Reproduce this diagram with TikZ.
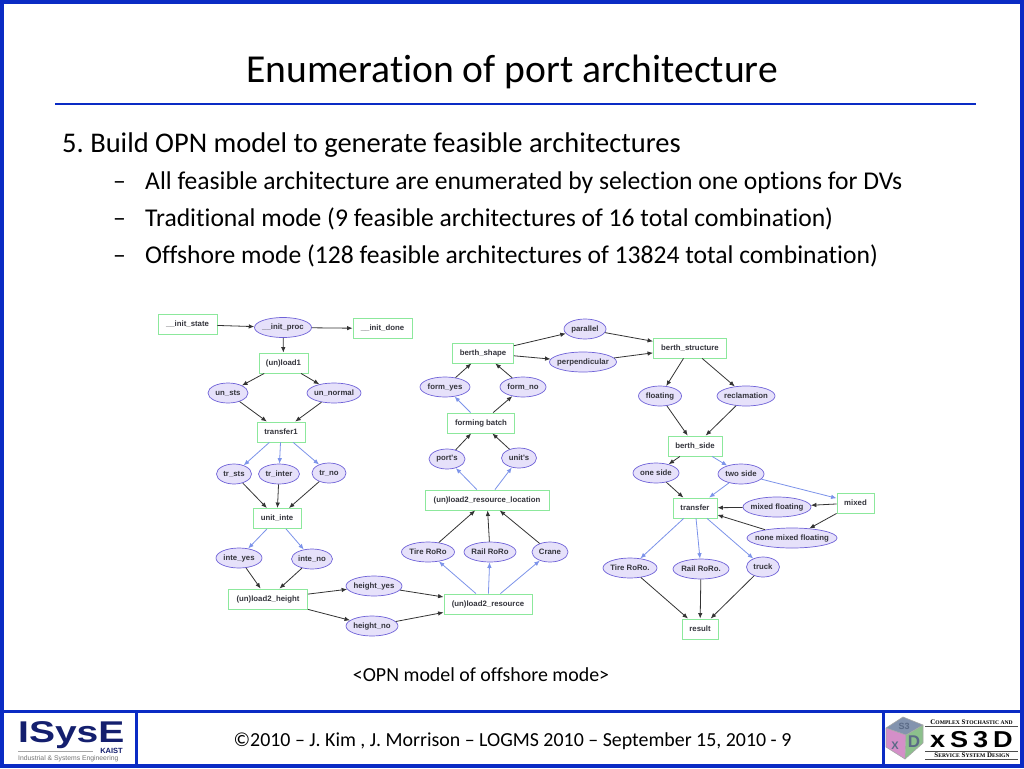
\documentclass[tikz,border=0pt]{standalone}
\usepackage{fontspec}
\setmainfont{Carlito}[Ligatures=NoCommon]
\newfontfamily\labelfont{Liberation Sans}
\newfontfamily\logoserif{Liberation Serif}
\usetikzlibrary{arrows.meta,shapes.geometric}
\definecolor{slideblue}{HTML}{0A2BC4}
\definecolor{logonavy}{HTML}{141F6E}
\definecolor{placeline}{HTML}{6F62D8}
\definecolor{placefill}{HTML}{E6E1FA}
\definecolor{boxline}{HTML}{8CE89C}
\definecolor{softblue}{HTML}{7C93EA}
\definecolor{labeltext}{HTML}{34343C}
\definecolor{cubetopc}{HTML}{8393AE}
\definecolor{cubeleftc}{HTML}{D48FC8}
\definecolor{cuberightc}{HTML}{8CC08C}
\definecolor{cubeletter}{HTML}{5A6A86}

\begin{document}
\frenchspacing
\begin{tikzpicture}[
        x=1pt, y=-1pt,
        opnbox/.style={rectangle, draw=boxline, fill=white, line width=0.9pt, inner sep=0pt, minimum height=20pt, font=\labelfont\bfseries\fontsize{7.8}{8}\selectfont, text=labeltext},
        opnoval/.style={ellipse, draw=placeline, fill=placefill, line width=0.7pt, inner ysep=0pt, inner xsep=-10pt, minimum height=20pt, font=\labelfont\bfseries\fontsize{7.8}{8}\selectfont, text=labeltext},
        flow/.style={-{Latex[length=5.5pt,width=4.5pt]}, black!80, line width=0.8pt},
        choice/.style={-{Latex[length=5.5pt,width=4.5pt]}, softblue, line width=0.8pt},
        slidetext/.style={anchor=base west, inner sep=0pt, text=black},
        rule/.style={slideblue, line width=3pt}
      ]
      \useasboundingbox (0,0) rectangle (1024,768);
      \fill[white] (0,0) rectangle (1024,768);

      % frame and footer
      \draw[slideblue, line width=4pt] (2,2) rectangle (1022,766);
      \draw[rule] (0,711.5) -- (1024,711.5);
      \draw[rule] (136,712) -- (136,768);
      \draw[rule] (883.5,712) -- (883.5,768);
      \draw[slideblue, line width=2pt] (55,104) -- (976,104);

      % slide text
      \node[anchor=base, inner sep=0pt] (title) at (512,82) {\fontsize{39.6}{42}\selectfont Enumeration of port architecture};
      \node[slidetext] (head) at (62,152) {\fontsize{28.5}{30}\selectfont 5. Build OPN model to generate feasible architectures};
      \node[slidetext] (dash1) at (113,189) {\fontsize{25.6}{28}\selectfont –};
      \node[slidetext] (item1) at (145,189) {\fontsize{25.6}{28}\selectfont All feasible architecture are enumerated by selection one options for DVs};
      \node[slidetext] (dash2) at (113,226) {\fontsize{25.6}{28}\selectfont –};
      \node[slidetext] (item2) at (145,226) {\fontsize{25.6}{28}\selectfont Traditional mode (9 feasible architectures of 16 total combination)};
      \node[slidetext] (dash3) at (113,263) {\fontsize{25.6}{28}\selectfont –};
      \node[slidetext] (item3) at (145,263) {\fontsize{25.6}{28}\selectfont Offshore mode (128 feasible architectures of 13824 total combination)};
      \node[anchor=base, inner sep=0pt] (caption) at (481,681.5) {\fontsize{19.9}{22}\selectfont <OPN model of offshore mode>};
      \node[anchor=base, inner sep=0pt] (footer) at (512.5,746) {\fontsize{19.9}{22}\selectfont ©2010 – J. Kim , J. Morrison – LOGMS 2010 – September 15, 2010 - 9};

      % left logo
      \node[anchor=base west, inner sep=0pt, text=logonavy] (isyse) at (18,742) {\labelfont\bfseries\fontsize{30}{31}\selectfont\scalebox{1.3}[1]{ISysE}};
      \draw[gray!70, line width=0.8pt] (18,751) -- (93,751);
      \node[anchor=base east, inner sep=0pt, text=logonavy] (kaist) at (123,753.5) {\labelfont\bfseries\fontsize{7.5}{8}\selectfont KAIST};
      \node[anchor=base west, inner sep=0pt, text=gray!90!black] (isysename) at (18,760.5) {\labelfont\fontsize{6.8}{7}\selectfont Industrial \& Systems Engineering};

      % right logo
      \fill[cubetopc] (903,717) -- (923,725) -- (906,735) -- (886,728) -- cycle;
      \fill[cubeleftc] (886,728) -- (906,735) -- (905,759) -- (886,747) -- cycle;
      \fill[cuberightc] (906,735) -- (923,725) -- (923,743) -- (905,759) -- cycle;
      \draw[gray!70, line width=0.6pt] (903,717) -- (923,725) -- (923,743) -- (905,759) -- (886,747) -- (886,728) -- cycle;
      \draw[gray!70, line width=0.6pt] (886,728) -- (906,735) -- (923,725) (906,735) -- (905,759);
      \node[text=cubeletter, inner sep=0pt] (cubetop) at (904,726) {\labelfont\bfseries\fontsize{9}{10}\selectfont S3};
      \node[text=cubeletter, inner sep=0pt] (cubeleft) at (895,746) {\labelfont\bfseries\fontsize{11}{12}\selectfont X};
      \node[text=cubeletter, inner sep=0pt] (cuberight) at (914,742) {\labelfont\bfseries\fontsize{17}{18}\selectfont D};
      \node[inner sep=0pt] (xsname) at (971.5,722.5) {\logoserif\bfseries\fontsize{7}{7}\selectfont C{\fontsize{5.6}{6}\selectfont OMPLEX} S{\fontsize{5.6}{6}\selectfont TOCHASTIC AND}};
      \draw[gray!60!black, line width=0.6pt] (925,726) -- (1018,726);
      \node[inner sep=0pt] (xsd) at (971.5,740) {\labelfont\bfseries\fontsize{23}{24}\selectfont\addfontfeature{LetterSpace=18}\scalebox{1.18}[1]{xS3D}};
      \draw[gray!60!black, line width=0.6pt] (925,751.5) -- (1018,751.5);
      \node[inner sep=0pt] (xsdesign) at (972,755.5) {\logoserif\bfseries\fontsize{7}{7}\selectfont S{\fontsize{5.6}{6}\selectfont ERVICE} S{\fontsize{5.6}{6}\selectfont YSTEM} D{\fontsize{5.6}{6}\selectfont ESIGN}};
      \draw[gray!60!black, line width=0.6pt] (925,759.5) -- (1018,759.5);

      % left graph
      \node[opnbox, minimum width=59pt] (initstate) at (187.5,324.5) {\_\_init\_state};
      \node[opnoval, minimum width=57pt] (initproc) at (283,327.5) {\_\_init\_proc};
      \node[opnbox, minimum width=59pt] (initdone) at (382.5,328.5) {\_\_init\_done};
      \node[opnbox, minimum width=49pt] (load1) at (283.5,363) {(un)load1};
      \node[opnoval, minimum width=40pt] (unsts) at (228,393) {un\_sts};
      \node[opnoval, minimum width=54pt] (unnormal) at (334,393) {un\_normal};
      \node[opnbox, minimum width=48pt] (transfer1) at (281,432) {transfer1};
      \node[opnoval, minimum width=35pt] (trsts) at (234,474) {tr\_sts};
      \node[opnoval, minimum width=41pt] (trinter) at (279,474) {tr\_inter};
      \node[opnoval, minimum width=34pt] (trno) at (329,473) {tr\_no};
      \node[opnbox, minimum width=48pt] (unitinte) at (277,518.5) {unit\_inte};
      \node[opnoval, minimum width=46pt] (inteyes) at (239,558) {inte\_yes};
      \node[opnoval, minimum width=41pt] (inteno) at (312,559) {inte\_no};
      \node[opnbox, minimum width=79pt] (loadheight) at (268,599) {(un)load2\_height};
      \node[opnoval, minimum width=56pt] (heightyes) at (374,586) {height\_yes};
      \node[opnoval, minimum width=52pt] (heightno) at (372,626) {height\_no};

      % middle graph
      \node[opnbox, minimum width=88pt] (loadres) at (488,604) {(un)load2\_resource};
      \node[opnoval, minimum width=53pt] (tireroro) at (428,552) {Tire RoRo};
      \node[opnoval, minimum width=52pt] (railroro) at (490,552) {Rail RoRo};
      \node[opnoval, minimum width=36pt] (crane) at (550,552) {Crane};
      \node[opnbox, minimum width=124pt] (loadresloc) at (487,500) {(un)load2\_resource\_location};
      \node[opnoval, minimum width=36pt] (ports) at (447,459) {port's};
      \node[opnoval, minimum width=35pt] (units) at (519,458) {unit's};
      \node[opnbox, minimum width=67pt] (forming) at (481,423) {forming batch};
      \node[opnoval, minimum width=50pt] (formyes) at (445,387) {form\_yes};
      \node[opnoval, minimum width=46pt] (formno) at (523,387) {form\_no};
      \node[opnbox, minimum width=61pt] (berthshape) at (483,353) {berth\_shape};
      \node[opnoval, minimum width=42pt] (parallel) at (585,329) {parallel};
      \node[opnoval, minimum width=67pt] (perpendicular) at (583,362) {perpendicular};

      % right graph
      \node[opnbox, minimum width=73pt] (berthstruct) at (690,348) {berth\_structure};
      \node[opnoval, minimum width=43pt] (floating) at (660,396) {floating};
      \node[opnoval, minimum width=58pt] (reclamation) at (746,396) {reclamation};
      \node[opnbox, minimum width=54pt] (berthside) at (695,446) {berth\_side};
      \node[opnoval, minimum width=46pt] (oneside) at (656,473) {one side};
      \node[opnoval, minimum width=46pt] (twoside) at (741,474) {two side};
      \node[opnbox, minimum width=44pt] (transfer) at (695,508) {transfer};
      \node[opnoval, minimum width=68pt] (mixedfloat) at (777,507) {mixed floating};
      \node[opnbox, minimum width=37pt] (mixed) at (855.5,503) {mixed};
      \node[opnoval, minimum width=90pt] (nonemixed) at (792,538) {none mixed floating};
      \node[opnoval, minimum width=54pt] (tireroroB) at (630,568) {Tire RoRo.};
      \node[opnoval, minimum width=56pt] (railroroB) at (701,569) {Rail RoRo.};
      \node[opnoval, minimum width=33pt] (truck) at (763,567) {truck};
      \node[opnbox, minimum width=36pt] (result) at (700,629) {result};

      % connectors, left graph
      \draw[flow] (initstate) -- (initproc);
      \draw[flow] (initproc) -- (initdone);
      \draw[flow] (initproc) -- (load1);
      \draw[flow] (load1) -- (unsts);
      \draw[flow] (load1) -- (unnormal);
      \draw[flow] (unsts) -- (transfer1);
      \draw[flow] (unnormal) -- (transfer1);
      \draw[choice] (transfer1) -- (trsts);
      \draw[choice] (transfer1) -- (trinter);
      \draw[choice] (transfer1) -- (trno);
      \draw[flow] (trsts) -- (unitinte);
      \draw[flow] (trinter) -- (unitinte);
      \draw[flow] (trno) -- (unitinte);
      \draw[choice] (unitinte) -- (inteyes);
      \draw[choice] (unitinte) -- (inteno);
      \draw[flow] (inteyes) -- (loadheight);
      \draw[flow] (inteno) -- (loadheight);
      \draw[flow] (loadheight) -- (heightyes);
      \draw[flow] (loadheight) -- (heightno);
      \draw[flow] (heightyes) -- (loadres);
      \draw[flow] (heightno) -- (loadres);

      % connectors, middle graph
      \draw[choice] (loadres) -- (tireroro);
      \draw[choice] (loadres) -- (railroro);
      \draw[choice] (loadres) -- (crane);
      \draw[flow] (tireroro) -- (loadresloc);
      \draw[flow] (railroro) -- (loadresloc);
      \draw[flow] (crane) -- (loadresloc);
      \draw[choice] (loadresloc) -- (ports);
      \draw[choice] (loadresloc) -- (units);
      \draw[flow] (ports) -- (forming);
      \draw[flow] (units) -- (forming);
      \draw[choice] (forming) -- (formyes);
      \draw[flow] (forming) -- (formno);
      \draw[flow] (formyes) -- (berthshape);
      \draw[flow] (formno) -- (berthshape);
      \draw[flow] (berthshape) -- (parallel);
      \draw[flow] (berthshape) -- (perpendicular);

      % connectors, right graph
      \draw[flow] (parallel) -- (berthstruct);
      \draw[flow] (perpendicular) -- (berthstruct);
      \draw[flow] (berthstruct) -- (floating);
      \draw[flow] (berthstruct) -- (reclamation);
      \draw[flow] (floating) -- (berthside);
      \draw[flow] (reclamation) -- (berthside);
      \draw[flow] (berthside) -- (oneside);
      \draw[choice] (berthside) -- (twoside);
      \draw[flow] (oneside) -- (transfer);
      \draw[choice] (twoside) -- (transfer);
      \draw[choice] (twoside) -- (mixed);
      \draw[flow] (mixed) -- (mixedfloat);
      \draw[flow] (mixed) -- (nonemixed);
      \draw[flow] (mixedfloat) -- (transfer);
      \draw[flow] (nonemixed) -- (transfer);
      \draw[choice] (transfer) -- (tireroroB);
      \draw[choice] (transfer) -- (railroroB);
      \draw[choice] (transfer) -- (truck);
      \draw[flow] (tireroroB) -- (result);
      \draw[flow] (railroroB) -- (result);
      \draw[flow] (truck) -- (result);
    \end{tikzpicture}
\end{document}
